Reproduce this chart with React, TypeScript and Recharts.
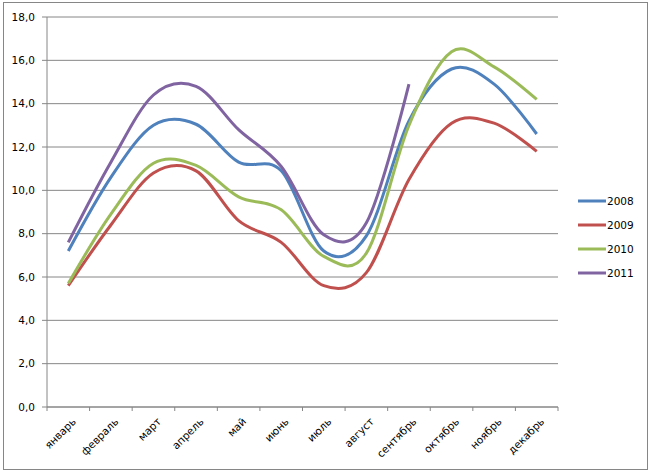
import React from 'react';
import { LineChart, Line, XAxis, YAxis, CartesianGrid, Legend } from 'recharts';

const MONTHS = ['январь', 'февраль', 'март', 'апрель', 'май', 'июнь', 'июль', 'август', 'сентябрь', 'октябрь', 'ноябрь', 'декабрь'];
const Y2008 = [7.2, 10.6, 13.0, 13.05, 11.3, 10.9, 7.2, 7.9, 13.2, 15.6, 14.9, 12.6];
const Y2009 = [5.6, 8.4, 10.8, 10.9, 8.6, 7.6, 5.6, 6.2, 10.5, 13.1, 13.1, 11.8];
const Y2010 = [5.7, 8.9, 11.25, 11.15, 9.7, 9.1, 6.95, 7.1, 13.0, 16.4, 15.7, 14.2];
const Y2011 = [7.6, 11.3, 14.4, 14.8, 12.8, 11.1, 7.95, 8.5, 14.9, null, null, null];
const Y_TICKS = [0, 2, 4, 6, 8, 10, 12, 14, 16, 18];

const SERIES = [
  { key: 'y2008', name: '2008', color: '#4F81BD', values: Y2008 },
  { key: 'y2009', name: '2009', color: '#C0504D', values: Y2009 },
  { key: 'y2010', name: '2010', color: '#9BBB59', values: Y2010 },
  { key: 'y2011', name: '2011', color: '#8064A2', values: Y2011 },
];

const data = MONTHS.map((m, i) => {
  const row: any = { month: m };
  SERIES.forEach((s) => { row[s.key] = s.values[i]; });
  return row;
});

const GRID = '#868686';
const FONT = '"DejaVu Sans", Verdana, sans-serif';

// Excel-like smoothing: cardinal spline with zero tension (Catmull-Rom)
class SmoothCurve {
  _context: any; _k: number; _line: number = NaN; _point = 0;
  _x0 = NaN; _x1 = NaN; _x2 = NaN; _y0 = NaN; _y1 = NaN; _y2 = NaN;
  constructor(context: any) { this._context = context; this._k = 1 / 6; }
  areaStart() { this._line = 0; }
  areaEnd() { this._line = NaN; }
  lineStart() {
    this._x0 = this._x1 = this._x2 = this._y0 = this._y1 = this._y2 = NaN;
    this._point = 0;
  }
  lineEnd() {
    switch (this._point) {
      case 2: this._context.lineTo(this._x2, this._y2); break;
      case 3: this.seg(this._x1, this._y1); break;
    }
    if (this._line || (this._line !== 0 && this._point === 1)) this._context.closePath();
    this._line = 1 - this._line;
  }
  seg(x: number, y: number) {
    const k = this._k;
    this._context.bezierCurveTo(
      this._x1 + k * (this._x2 - this._x0), this._y1 + k * (this._y2 - this._y0),
      this._x2 + k * (this._x1 - x), this._y2 + k * (this._y1 - y),
      this._x2, this._y2
    );
  }
  point(x: number, y: number) {
    x = +x; y = +y;
    switch (this._point) {
      case 0: this._point = 1; this._line ? this._context.lineTo(x, y) : this._context.moveTo(x, y); break;
      case 1: this._point = 2; this._x1 = x; this._y1 = y; break;
      case 2: this._point = 3; this.seg(x, y); break;
      default: this.seg(x, y); break;
    }
    this._x0 = this._x1; this._x1 = this._x2; this._x2 = x;
    this._y0 = this._y1; this._y1 = this._y2; this._y2 = y;
  }
}
const excelCurve: any = (context: any) => new SmoothCurve(context);

// month label + tick marks between categories (Excel style)
const MonthTick = (props: any) => {
  const { x, y, payload, index, visibleTicksCount } = props;
  const half = payload && payload.offset ? payload.offset : 0;
  const last = index === visibleTicksCount - 1;
  return (
    <g>
      <line x1={x - half} x2={x - half} y1={y} y2={y + 4} stroke={GRID} />
      {last && <line x1={x + half} x2={x + half} y1={y} y2={y + 4} stroke={GRID} />}
      <text
        x={x + 3}
        y={y + 10}
        dy="0.71em"
        textAnchor="end"
        transform={`rotate(-45, ${x + 3}, ${y + 10})`}
        fontFamily={FONT}
        fontSize={10.5}
        fill="#000"
      >
        {payload.value}
      </text>
    </g>
  );
};

const renderLegend = (props: any) => {
  const { payload } = props;
  return (
    <div style={{ fontFamily: FONT, fontSize: 10.5, color: '#000' }}>
      {payload.map((p: any) => (
        <div key={p.value} style={{ display: 'flex', alignItems: 'center', height: 24 }}>
          <svg width={28} height={6}><line x1={0} y1={3} x2={28} y2={3} stroke={p.color} strokeWidth={3} /></svg>
          <span style={{ marginLeft: 1 }}>{p.value}</span>
        </div>
      ))}
    </div>
  );
};

export default function App() {
  return (
    <div style={{ position: 'absolute', left: 0, top: 0, width: 651, height: 474, background: '#fff' }}>
      <div style={{ position: 'absolute', left: 3, top: 2, width: 645, height: 468, border: `1px solid ${GRID}`, boxSizing: 'border-box' }} />
      <LineChart width={651} height={474} data={data} margin={{ top: 17, right: 93, left: 0, bottom: 7 }}>
        <CartesianGrid vertical={false} stroke={GRID} strokeWidth={1} />
        <XAxis
          dataKey="month"
          scale="band"
          interval={0}
          height={60}
          stroke={GRID}
          tickLine={false}
          tickSize={0}
          tickMargin={0}
          tick={<MonthTick />}
        />
        <YAxis
          domain={[0, 18]}
          ticks={Y_TICKS}
          width={47}
          tickSize={5}
          tickMargin={7}
          stroke={GRID}
          tickFormatter={(v: number) => v.toFixed(1).replace('.', ',')}
          tick={{ fontFamily: FONT, fontSize: 10.5, fill: '#000' }}
        />
        <Legend
          layout="vertical"
          align="center"
          verticalAlign="middle"
          content={renderLegend}
          wrapperStyle={{ left: 578, top: 189, width: 70 }}
        />
        {SERIES.map((s) => (
          <Line
            key={s.key}
            dataKey={s.key}
            name={s.name}
            type={excelCurve}
            stroke={s.color}
            strokeWidth={3}
            dot={false}
            activeDot={false}
            isAnimationActive={false}
          />
        ))}
      </LineChart>
    </div>
  );
}
